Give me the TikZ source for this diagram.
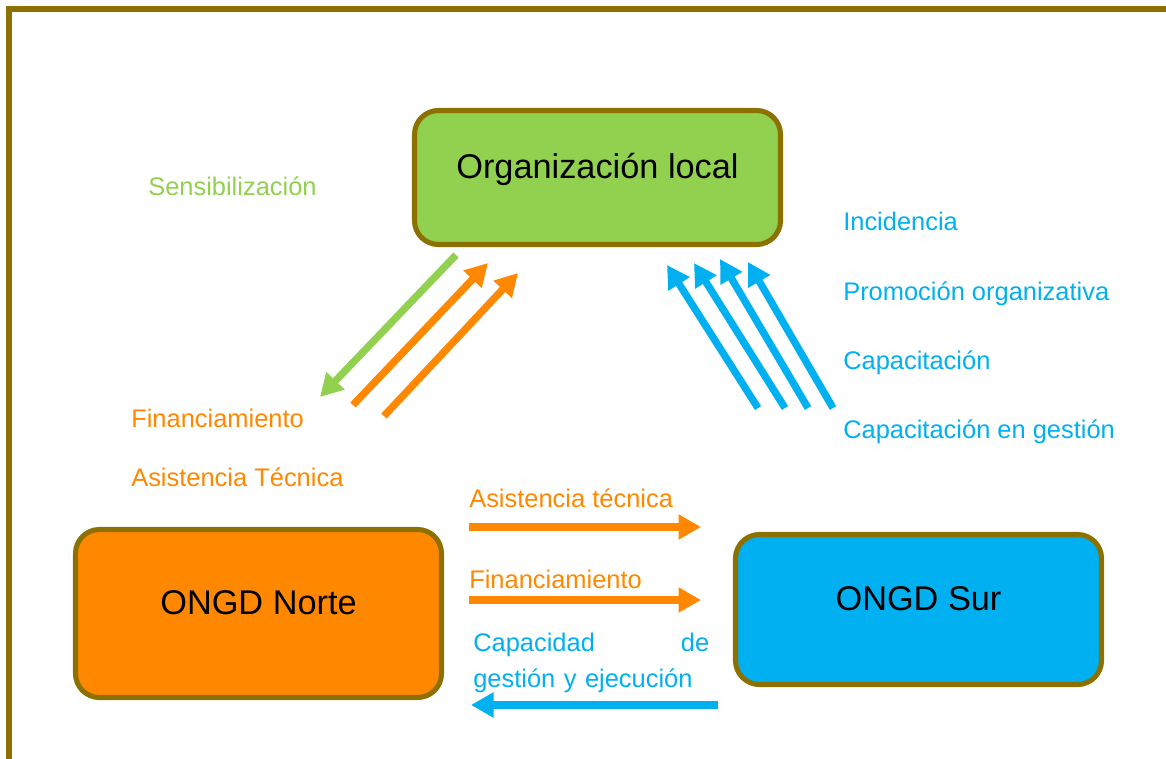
\documentclass[tikz,border=0pt]{standalone}
\usepackage{fontspec}
\setmainfont{Liberation Sans}
\usepackage{tikz}
\usetikzlibrary{arrows.meta}

\definecolor{verde}{HTML}{92D050}
\definecolor{naranja}{HTML}{FF8800}
\definecolor{azul}{HTML}{00B0F0}
\definecolor{marron}{HTML}{8C7000}

\begin{document}
\begin{tikzpicture}[x=0.025cm,y=-0.025cm,
    caja/.style={draw=marron,line width=3.6pt,rounded corners=17pt,inner sep=0pt,
        minimum width=366*0.025cm,font=\fontsize{24.4}{30}\selectfont,
        text height=0.7em,text depth=0.55em},
    etiqueta/.style={anchor=base west,inner sep=0pt,font=\fontsize{18.1}{25.6}\selectfont},
    flecha/.style={line width=5.2pt,-{Triangle[length=16pt,width=17pt]}}]
                % Frame
                \useasboundingbox (0,0) rectangle (1166,758);
                \clip (0,0) rectangle (1166,758);
                \draw[marron,line width=4.3pt](9,9) rectangle (1220,820);
                % Boxes
                \node[caja,fill=verde,minimum height=134*0.025cm] (local) at (597.5,177.5) {Organización local};
                \node[caja,fill=naranja,minimum height=168*0.025cm] (norte) at (258.5,613.5) {ONGD Norte};
                \node[caja,fill=azul,minimum height=150*0.025cm] (sur) at (918.5,609.5) {ONGD Sur};
                % Labels
                \node[etiqueta,text=verde] (sens) at (148,195) {Sensibilización};
                \node[etiqueta,text=azul] (inci) at (843,230) {Incidencia};
                \node[etiqueta,text=azul] (prom) at (843,300) {Promoción organizativa};
                \node[etiqueta,text=azul] (capa) at (843,369) {Capacitación};
                \node[etiqueta,text=azul] (cges) at (843,438) {Capacitación en gestión};
                \node[etiqueta,text=naranja] (fin1) at (131,427) {Financiamiento};
                \node[etiqueta,text=naranja] (asi1) at (131,486) {Asistencia Técnica};
                \node[etiqueta,text=naranja] (asi2) at (469,507) {Asistencia técnica};
                \node[etiqueta,text=naranja] (fin2) at (469,588) {Financiamiento};
                \node[etiqueta,text=azul,text width=236*0.025cm,align=left] (cap) at (473,651)
                    {Capacidad\hfill de\\gestión y ejecución};
                % Arrow ends
                \coordinate (v1) at (456,255); \coordinate (v2) at (320,397);
                \coordinate (n1) at (353,405); \coordinate (n2) at (488,263);
                \coordinate (n3) at (384,416); \coordinate (n4) at (518,273);
                \coordinate (a1) at (758,408); \coordinate (a2) at (667,265);
                \coordinate (a3) at (785,408); \coordinate (a4) at (694,263);
                \coordinate (a5) at (808,408); \coordinate (a6) at (720,259);
                \coordinate (a7) at (833,408); \coordinate (a8) at (748,262);
                \coordinate (h1) at (469,527); \coordinate (h2) at (701,527);
                \coordinate (h3) at (469,600); \coordinate (h4) at (701,600);
                \coordinate (h5) at (718,705); \coordinate (h6) at (471,705);
                % Arrows
                \draw[flecha,verde](v1)--(v2);
                \draw[flecha,naranja](n1)--(n2);
                \draw[flecha,naranja](n3)--(n4);
                \draw[flecha,azul](a1)--(a2);
                \draw[flecha,azul](a3)--(a4);
                \draw[flecha,azul](a5)--(a6);
                \draw[flecha,azul](a7)--(a8);
                \draw[flecha,naranja](h1)--(h2);
                \draw[flecha,naranja](h3)--(h4);
                \draw[flecha,azul](h5)--(h6);
            \end{tikzpicture}
\end{document}
